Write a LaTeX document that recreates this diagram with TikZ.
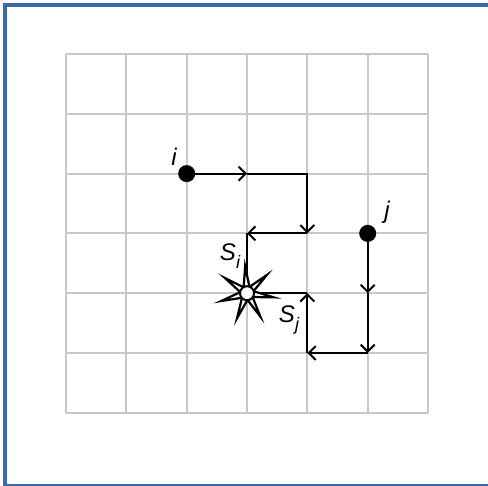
\documentclass[tikz,border=0pt]{standalone}
\usepackage{fontspec}
\setmainfont{Liberation Sans}
\usetikzlibrary{arrows.meta,shapes.geometric}
\definecolor{gridgray}{HTML}{C8C8C8}
\definecolor{frameblue}{HTML}{3B69AA}
\begin{document}
\begin{tikzpicture}[x=1pt,y=-1pt,
  gridline/.style={draw=gridgray,line width=2pt},
  pathline/.style={line width=2pt,draw=black},
  arr/.style={pathline,-{Straight Barb[length=7pt,width=14pt,line width=2pt]}},
  dot/.style={circle,fill=black,inner sep=0pt,minimum size=17pt},
  lbl/.style={font=\fontsize{24}{28}\selectfont\itshape,inner sep=0pt}]
\useasboundingbox (0,0) rectangle (488,486);
\fill[white] (0,0) rectangle (488,486);
\draw[frameblue,line width=3.8pt] (5,4.8) rectangle (495,485.8);
% grid
\foreach \gx in {66,126.3,186.7,247,307.3,367.7,428}
  \draw[gridline] (\gx,54) -- (\gx,412.8);
\foreach \gy in {54,113.8,173.6,233.4,293.2,353,412.8}
  \draw[gridline] (66,\gy) -- (428,\gy);
% coordinates
\coordinate (a1) at (247,173.6);
\coordinate (a2) at (307.3,173.6);
\coordinate (a3) at (307.3,233.4);
\coordinate (a4) at (247,233.4);
\coordinate (st) at (247,293.2);
\coordinate (b1) at (367.7,293.2);
\coordinate (b2) at (367.7,353);
\coordinate (b3) at (307.3,353);
\coordinate (b4) at (307.3,293.2);
% dots
\node[dot] (i) at (186.7,173.6) {};
\node[dot] (j) at (367.7,233.4) {};
% path of i
\draw[arr] (i) -- (a1);
\draw[arr] (a1) -- (a2) -- (a3);
\draw[arr] (a3) -- (a4);
\draw[pathline] (a4) -- (st);
% path of j
\draw[arr] (j) -- (b1);
\draw[arr] (b1) -- (b2);
\draw[arr] (b2) -- (b3);
\draw[arr] (b3) -- (b4);
\draw[pathline] (b4) -- (st);
% collision star
\node[star,star points=7,star point ratio=4,minimum size=54pt,inner sep=0pt,
      draw=black,fill=white,line width=2.2pt,rotate=4] (s) at (st) {};
\node[circle,draw=black,fill=white,minimum size=14pt,inner sep=0pt,line width=2pt] (sc) at (st) {};
% labels
\node[lbl] (li) at (174,157) {i};
\node[lbl] (lj) at (387,212) {j};
\node[lbl] (lsi) at (230,256) {S\raisebox{-8pt}{\fontsize{18}{18}\selectfont i}};
\node[lbl] (lsj) at (289,320) {S\raisebox{-8pt}{\fontsize{18}{18}\selectfont j}};
\end{tikzpicture}
\end{document}
